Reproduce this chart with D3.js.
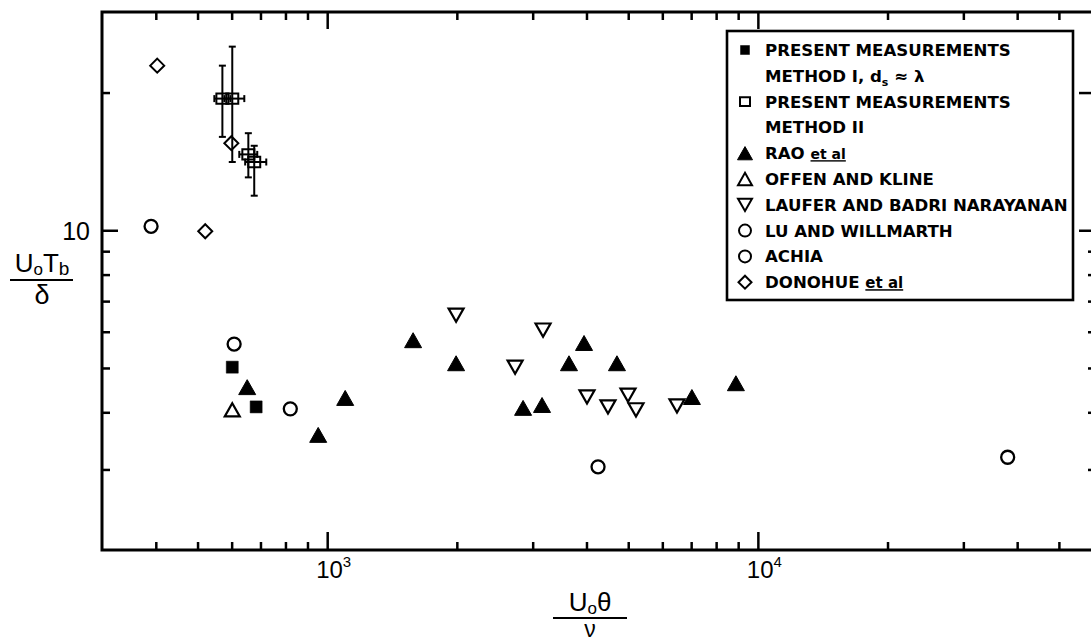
<!DOCTYPE html>
<html>
  <head>
    <title>U0 Tb / delta vs U0 theta / nu</title>
    <style>
      body { margin: 0; background: #fff; }
      svg text { font-family: "Liberation Sans", Arial, sans-serif; fill: #000; }
      .legend text { font-family: "DejaVu Sans", sans-serif; font-weight: bold; font-size: 16.6px; }
    </style>
  </head>
  <body>
    <script src="https://d3js.org/d3.v7.min.js"></script>
    <script>
      // values: [U0*theta/nu, U0*Tb/delta]
      const methodI = [[602, 5.02], [684, 4.11]];
      // method II: [x, y, x low, x high, y low, y high]
      const methodII = [
        [571, 19.4, 547, 596, 16.0, 22.9],
        [602, 19.4, 577, 642, 14.1, 25.2],
        [656, 14.65, 625, 688, 13.05, 16.3],
        [677, 14.1, 645, 722, 11.9, 15.3]
      ];
      const rao = [[652, 4.54], [953, 3.57], [1101, 4.30], [1583, 5.75], [1992, 5.12], [2850, 4.09],
                   [3154, 4.15], [3643, 5.12], [3948, 5.67], [4708, 5.12], [7028, 4.32], [8892, 4.63]];
      const offenKline = [[602, 4.05]];
      const laufer = [[1992, 6.52], [2731, 5.02], [3171, 6.05], [4011, 4.32], [4487, 4.11],
                      [4994, 4.36], [5212, 4.05], [6489, 4.13]];
      const luWillmarth = [[4255, 3.04], [38020, 3.19]];
      const achia = [[390, 10.2], [608, 5.64], [821, 4.07]];
      const donohue = [[403, 22.9], [599, 15.5], [521, 9.95]];

      const xMajor = [1000, 10000];
      const xMinor = [400, 500, 600, 700, 800, 900, 2000, 3000, 4000, 5000, 6000, 7000, 8000, 9000,
                      20000, 30000, 40000, 50000];
      const yMajor = [10];
      const yMinor = [3, 4, 5, 6, 7, 8, 9, 20];
      const yRightMajor = [10, 20];
      const yRightMinor = [3, 4, 5, 6, 7, 8, 9];

      const W = 1091, H = 642;
      const svg = d3.select("body").append("svg").attr("width", W).attr("height", H);

      const x = d3.scaleLog().domain([300, 60000]).range([102, 1093]);
      const y = d3.scaleLog().domain([2, 30]).range([550, 12]);

      // frame
      svg.append("rect")
        .attr("x", x(300)).attr("y", y(30))
        .attr("width", x(60000) - x(300)).attr("height", y(2) - y(30))
        .attr("fill", "none").attr("stroke", "#000").attr("stroke-width", 3);

      function ticks(axis, tr, size, vals) {
        const g = svg.append("g").attr("transform", tr)
          .call(axis.tickValues(vals).tickSize(size).tickFormat(""));
        g.select(".domain").remove();
        g.selectAll(".tick line").attr("stroke-width", 2.5);
        return g;
      }
      // inward ticks on all four sides
      ticks(d3.axisBottom(x), `translate(0,${y(2)})`, -8, xMinor);
      const gxb = ticks(d3.axisBottom(x), `translate(0,${y(2)})`, -18, xMajor);
      ticks(d3.axisTop(x), `translate(0,${y(30)})`, -8, xMinor);
      ticks(d3.axisTop(x), `translate(0,${y(30)})`, -17, xMajor);
      ticks(d3.axisLeft(y), `translate(${x(300)},0)`, -8, yMinor);
      const gyl = ticks(d3.axisLeft(y), `translate(${x(300)},0)`, -16, yMajor);
      ticks(d3.axisRight(y), `translate(${x(60000)},0)`, -5, yRightMinor);
      ticks(d3.axisRight(y), `translate(${x(60000)},0)`, -14, yRightMajor);

      // tick labels
      gxb.selectAll(".tick text")
        .text("10").attr("y", 28).attr("dy", 0).attr("dx", 6)
        .attr("font-size", 24)
        .append("tspan").attr("font-size", 15).attr("dy", -11)
        .text(d => Math.round(Math.log10(d)));
      gyl.selectAll(".tick text")
        .text("10").attr("x", -12).attr("dy", "0.38em").attr("font-size", 25);

      // axis titles
      const yt = svg.append("g").attr("transform", "translate(42,0)");
      const ytn = yt.append("text").attr("text-anchor", "middle").attr("y", 272).attr("font-size", 26);
      ytn.append("tspan").text("U");
      ytn.append("tspan").attr("font-size", 17).attr("dy", 3).text("o");
      ytn.append("tspan").attr("dy", -3).text("T");
      ytn.append("tspan").attr("font-size", 19).attr("dy", 3).text("b");
      yt.append("line").attr("x1", -32).attr("x2", 31).attr("y1", 280).attr("y2", 280)
        .attr("stroke", "#000").attr("stroke-width", 2.2);
      yt.append("text").attr("text-anchor", "middle").attr("y", 304).attr("font-size", 27).text("δ");

      const xt = svg.append("g").attr("transform", "translate(590,0)");
      const xtn = xt.append("text").attr("text-anchor", "middle").attr("y", 611).attr("font-size", 26);
      xtn.append("tspan").text("U");
      xtn.append("tspan").attr("font-size", 17).attr("dy", 3).text("o");
      xtn.append("tspan").attr("dy", -3).text("θ");
      xt.append("line").attr("x1", -37).attr("x2", 37).attr("y1", 618).attr("y2", 618)
        .attr("stroke", "#000").attr("stroke-width", 2.2);
      xt.append("text").attr("text-anchor", "middle").attr("y", 637).attr("font-size", 23).text("ν");

      // marker shapes centred on their bounding box
      function shape(type, s) {
        const w = s, h = s * 0.88;
        if (type === "up") return `M0,${-h / 2}L${w / 2},${h / 2}L${-w / 2},${h / 2}Z`;
        if (type === "down") return `M${-w / 2},${-h / 2}L${w / 2},${-h / 2}L0,${h / 2}Z`;
        if (type === "square") return `M${-s / 2},${-s / 2}h${s}v${s}h${-s}Z`;
        if (type === "box") return `M${-s / 2},${-s * 0.43}h${s}v${s * 0.86}h${-s}Z`;
        if (type === "diamond") return `M0,${-s / 2}L${s / 2},0L0,${s / 2}L${-s / 2},0Z`;
        return d3.arc()({ innerRadius: 0, outerRadius: s / 2, startAngle: 0, endAngle: 2 * Math.PI });
      }
      const styles = {
        filledSquare: { type: "square", size: 12, fill: "#000", sw: 0.5 },
        openSquare: { type: "box", size: 12, fill: "none", sw: 2 },
        filledUp: { type: "up", size: 17, fill: "#000", sw: 1 },
        openUp: { type: "up", size: 15, fill: "none", sw: 2.2 },
        openDown: { type: "down", size: 15, fill: "none", sw: 2.2 },
        circle: { type: "circle", size: 13, fill: "none", sw: 2.3 },
        diamond: { type: "diamond", size: 14, fill: "none", sw: 2 }
      };

      function plot(data, st) {
        svg.append("g").selectAll("path").data(data).join("path")
          .attr("transform", d => `translate(${x(d[0])},${y(d[1])})`)
          .attr("d", shape(st.type, st.size))
          .attr("fill", st.fill).attr("stroke", "#000").attr("stroke-width", st.sw)
          .attr("stroke-linejoin", "miter");
      }

      // error bars for method II
      const eb = svg.append("g").attr("stroke", "#000").attr("stroke-width", 2);
      methodII.forEach(d => {
        const cx = x(d[0]), cy = y(d[1]);
        eb.append("line").attr("x1", cx).attr("x2", cx).attr("y1", y(d[4])).attr("y2", y(d[5]));
        eb.append("line").attr("x1", cx - 3.5).attr("x2", cx + 3.5).attr("y1", y(d[4])).attr("y2", y(d[4]));
        eb.append("line").attr("x1", cx - 3.5).attr("x2", cx + 3.5).attr("y1", y(d[5])).attr("y2", y(d[5]));
        eb.append("line").attr("x1", x(d[2])).attr("x2", x(d[3])).attr("y1", cy).attr("y2", cy);
        eb.append("line").attr("x1", x(d[2])).attr("x2", x(d[2])).attr("y1", cy - 3.5).attr("y2", cy + 3.5);
        eb.append("line").attr("x1", x(d[3])).attr("x2", x(d[3])).attr("y1", cy - 3.5).attr("y2", cy + 3.5);
      });

      plot(methodI, styles.filledSquare);
      plot(methodII, styles.openSquare);
      plot(rao, styles.filledUp);
      plot(offenKline, styles.openUp);
      plot(laufer, styles.openDown);
      plot(luWillmarth, styles.circle);
      plot(achia, styles.circle);
      plot(donohue, styles.diamond);

      // legend
      const lg = svg.append("g").attr("class", "legend");
      lg.append("rect").attr("x", 727).attr("y", 31).attr("width", 346).attr("height", 269)
        .attr("fill", "#fff").attr("stroke", "#000").attr("stroke-width", 2.6);
      const rowY = i => 56 + i * 25.8;
      const legendRows = [
        { st: "filledSquare", size: 9 }, { st: null }, { st: "openSquare", size: 10 }, { st: null },
        { st: "filledUp", size: 15 }, { st: "openUp", size: 14 }, { st: "openDown", size: 14 },
        { st: "circle", size: 12 }, { st: "circle", size: 12 }, { st: "diamond", size: 13 }
      ];
      legendRows.forEach((r, i) => {
        if (!r.st) return;
        const st = styles[r.st];
        lg.append("path").attr("transform", `translate(745,${rowY(i) - 6})`)
          .attr("d", shape(st.type, r.size))
          .attr("fill", st.fill).attr("stroke", "#000").attr("stroke-width", Math.min(st.sw, 2));
      });
      const txt = i => lg.append("text").attr("x", 765).attr("y", rowY(i));
      txt(0).text("PRESENT MEASUREMENTS");
      const t1 = txt(1).text("METHOD I, d");
      t1.append("tspan").attr("font-size", 11).attr("dy", 4).text("s");
      t1.append("tspan").attr("dy", -4).text(" ≈ λ");
      txt(2).text("PRESENT MEASUREMENTS");
      txt(3).text("METHOD II");
      const t4 = txt(4).text("RAO ");
      t4.append("tspan").attr("font-size", 14).style("text-decoration", "underline").text("et al");
      txt(5).text("OFFEN AND KLINE");
      txt(6).text("LAUFER AND BADRI NARAYANAN");
      txt(7).text("LU AND WILLMARTH");
      txt(8).text("ACHIA");
      const t9 = txt(9).text("DONOHUE ");
      t9.append("tspan").attr("font-size", 15).style("text-decoration", "underline").text("et al");
    </script>
  </body>
</html>
